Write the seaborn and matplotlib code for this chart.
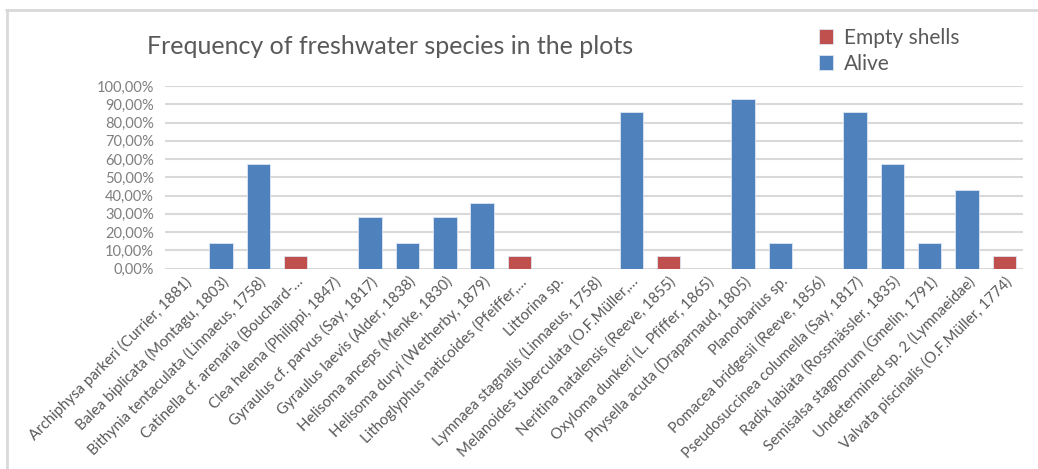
import matplotlib
matplotlib.use("Agg")
import matplotlib.pyplot as plt
import seaborn as sns
import pandas as pd
import numpy as np
from matplotlib.lines import Line2D
from matplotlib.ticker import FuncFormatter, MultipleLocator

species = [
    "Archiphysa parkeri (Currier, 1881)",
    "Balea biplicata (Montagu, 1803)",
    "Bithynia tentaculata (Linnaeus, 1758)",
    "Catinella cf. arenaria (Bouchard-\u2026",
    "Clea helena (Philippi, 1847)",
    "Gyraulus cf. parvus (Say, 1817)",
    "Gyraulus laevis (Alder, 1838)",
    "Helisoma anceps (Menke, 1830)",
    "Helisoma duryi (Wetherby, 1879)",
    "Lithoglyphus naticoides (Pfeiffer,\u2026",
    "Littorina sp.",
    "Lymnaea stagnalis (Linnaeus, 1758)",
    "Melanoides tuberculata (O.F.Müller,\u2026",
    "Neritina natalensis (Reeve, 1855)",
    "Oxyloma dunkeri (L. Pfiffer, 1865)",
    "Physella acuta (Draparnaud, 1805)",
    "Planorbarius sp.",
    "Pomacea bridgesii (Reeve, 1856)",
    "Pseudosuccinea columella (Say, 1817)",
    "Radix labiata (Rossmässler, 1835)",
    "Semisalsa stagnorum (Gmelin, 1791)",
    "Undetermined sp. 2 (Lymnaeidae)",
    "Valvata piscinalis (O.F.Müller, 1774)",
]
alive = [0, 14.29, 57.14, 0, 0, 28.57, 14.29, 28.57, 35.71, 0, 0, 0, 85.71, 0,
         0, 92.86, 14.29, 0, 85.71, 57.14, 14.29, 42.86, 0]
empty_shells = [0, 0, 0, 7.14, 0, 0, 0, 0, 0, 7.14, 0, 0, 0, 7.14,
                0, 0, 0, 0, 0, 0, 0, 0, 7.14]
series_names = ["Empty shells", "Alive"]
colors = {"Empty shells": "#C0504D", "Alive": "#4F81BD"}

rows = []
for s, a, e in zip(species, alive, empty_shells):
    if e > 0:
        rows.append((s, "Empty shells", e))
    if a > 0:
        rows.append((s, "Alive", a))
df = pd.DataFrame(rows, columns=["species", "status", "value"])

sns.set_theme(style="white")
plt.rcParams["font.family"] = ["Lato", "DejaVu Sans"]

fig = plt.figure(figsize=(10.38, 4.69), dpi=100)
ax = fig.add_axes([165 / 1038, 1 - 268.7 / 469, (1023 - 165) / 1038, (268.7 - 86) / 469])

sns.barplot(data=df, x="species", y="value", hue="status", order=species,
            hue_order=series_names, palette=colors, saturation=1, dodge=False, width=0.63,
            edgecolor="#dce6f2", linewidth=0.6, ax=ax, legend=True, zorder=3)

ax.set_ylim(0, 100)
ax.set_xlim(-0.5, len(species) - 0.5)
ax.yaxis.set_major_locator(MultipleLocator(10))
ax.yaxis.set_major_formatter(FuncFormatter(lambda v, p: f"{v:.2f}%".replace(".", ",")))
ax.grid(axis="y", color="#d9d9d9", linewidth=1.5, zorder=0)
ax.set_axisbelow(True)
for sp in ax.spines.values():
    sp.set_visible(False)
ax.set_xlabel("")
ax.set_ylabel("")
ax.tick_params(axis="y", labelsize=10.5, labelcolor="#7f7f7f", length=0, pad=8)
ax.tick_params(axis="x", length=0, pad=4)
ax.set_xticks(range(len(species)))
ax.set_xticklabels(species, rotation=45, ha="right", va="top", rotation_mode="anchor",
                   fontsize=10.8, color="#595959")

handles, labels = ax.get_legend_handles_labels()
ax.get_legend().remove()
fig.legend(handles, labels, loc="upper left", bbox_to_anchor=(800 / 1038, 1 - 9 / 469),
           frameon=False, fontsize=15, labelcolor="#595959", handlelength=0.7,
           handleheight=0.7, handletextpad=0.5, labelspacing=0.3)

fig.text(390 / 1038, 1 - 46 / 469, "Frequency of freshwater species in the plots",
         ha="center", va="center", fontsize=18, color="#595959")

# outer chart frame
fig.add_artist(Line2D([6 / 1038, 1], [1 - 10 / 469, 1 - 10 / 469], color="#d9d9d9",
                      linewidth=2, transform=fig.transFigure))
fig.add_artist(Line2D([7 / 1038, 7 / 1038], [0, 1 - 10 / 469], color="#d9d9d9",
                      linewidth=2, transform=fig.transFigure))

fig.savefig("out.png", dpi=100, facecolor="white")
